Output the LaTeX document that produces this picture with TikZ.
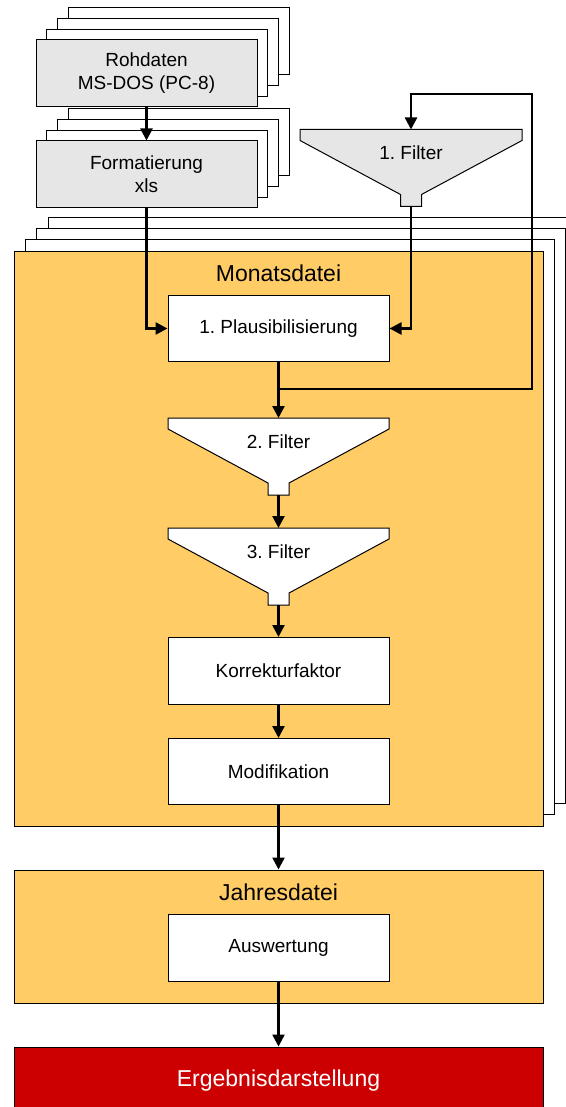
\documentclass[tikz,border=0pt]{standalone}
\usepackage{fontspec}
\setmainfont{Liberation Sans}
\usetikzlibrary{positioning,calc,shadows,arrows.meta}
\definecolor{datgray}{HTML}{E6E6E6}
\definecolor{datorange}{HTML}{FFCC66}
\definecolor{datred}{HTML}{CC0000}
\pgfdeclarelayer{back}
\pgfsetlayers{back,main}
\frenchspacing
\newcommand{\boxfont}{\fontsize{19}{23}\selectfont}
\newcommand{\titlefont}{\fontsize{23}{27}\selectfont}
\tikzset{
  stepbox/.style={draw,line width=1pt,fill=white,minimum width=221pt,minimum height=66pt,inner sep=0pt,font=\boxfont},
  graybox/.style={stepbox,fill=datgray,minimum height=67pt,align=center},
  funnel/.style={minimum width=221pt,minimum height=77pt,inner sep=0pt,outer sep=0pt,text height=14pt,text depth=31pt,font=\boxfont},
  frame/.style={draw,line width=1pt,fill=datorange,minimum width=529pt,inner sep=0pt},
  title/.style={font=\titlefont,inner sep=0pt},
  rawpages/.style={copy shadow={shadow xshift=32.5pt,shadow yshift=32.5pt,fill=white,draw=black},
    copy shadow={shadow xshift=21.5pt,shadow yshift=21.5pt,fill=white,draw=black},
    copy shadow={shadow xshift=10.8pt,shadow yshift=10.8pt,fill=white,draw=black}},
  monthpages/.style={copy shadow={shadow xshift=34pt,shadow yshift=33.5pt,fill=white,draw=black},
    copy shadow={shadow xshift=22.5pt,shadow yshift=22.5pt,fill=white,draw=black},
    copy shadow={shadow xshift=11.3pt,shadow yshift=11.3pt,fill=white,draw=black}},
  flow/.style={line width=2.5pt,-{Triangle[length=12pt,width=12pt]}},
}
\begin{document}
\begin{tikzpicture}[x=1pt,y=1pt]
\useasboundingbox (0,0) rectangle (565,-1107);
% input files
\node[graybox,rawpages] (roh) at (146.5,-73.5) {Rohdaten\\MS-DOS (PC-8)};
\node[graybox,rawpages,below=33pt of roh] (form) {Formatierung\\xls};
\node[funnel,minimum width=222pt] (f1) at (411,-168) {1. Filter};
% frames
\begin{pgfonlayer}{back}
  \node[frame,monthpages,minimum height=575pt] (monat) at (278.5,-538.5) {};
  \node[frame,minimum height=133pt] (jahr) at (278.5,-936.5) {};
\end{pgfonlayer}
\node[title] (monattitel) at ($(monat.north)+(0,-23)$) {Monatsdatei};
\node[title] (jahrtitel) at ($(jahr.north)+(0,-23)$) {Jahresdatei};
% steps
\node[stepbox] (plaus) at (278.5,-328.5) {1. Plausibilisierung};
\node[funnel,below=56pt of plaus] (f2) {2. Filter};
\node[funnel,below=33pt of f2] (f3) {3. Filter};
\node[stepbox,below=32pt of f3,minimum height=67pt] (korr) {Korrekturfaktor};
\node[stepbox,below=33pt of korr] (modif) {Modifikation};
\node[stepbox,minimum height=67pt] (ausw) at (278.5,-947.5) {Auswertung};
\node[frame,fill=datred,text=white,minimum height=68pt,font=\titlefont] (erg) at (278.5,-1081) {Ergebnisdarstellung};
% funnel outlines
\begin{pgfonlayer}{back}
  \foreach \f/\c in {f1/datgray,f2/white,f3/white}
    \filldraw[fill=\c,line width=1pt] (\f.north west) -- ++(0,-11) -- ($(\f.south)+(-10.5,12)$) -- ++(0,-12) -- ++(21,0) -- ++(0,12) -- ($(\f.north east)+(0,-11)$) -- (\f.north east) -- cycle;
\end{pgfonlayer}
% connectors
\draw[flow] (roh) -- (form);
\draw[flow] (form.south) |- (plaus.west);
\draw[flow] (f1.south) |- (plaus.east);
\draw[flow] (plaus) -- (f2);
\coordinate (fork) at ($(plaus.south)!0.48!(f2.north)$);
\coordinate (turn) at (532,-94);
\draw[flow] (fork) -| (turn) -| (f1.north);
\draw[flow] (f2) -- (f3);
\draw[flow] (f3) -- (korr);
\draw[flow] (korr) -- (modif);
\draw[flow] (modif) -- (jahr);
\draw[flow] (ausw) -- (erg);
\end{tikzpicture}
\end{document}
